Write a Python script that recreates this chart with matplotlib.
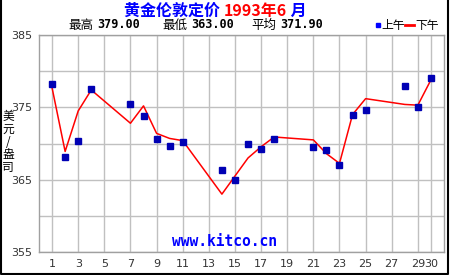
import matplotlib
matplotlib.use("Agg")
import matplotlib.pyplot as plt
from matplotlib.lines import Line2D

plt.rcParams['font.family'] = ['Noto Sans CJK SC', 'DejaVu Sans']

days = [1, 2, 3, 4, 7, 8, 9, 10, 11, 14, 15, 16, 17, 18, 21, 22, 23, 24, 25, 28, 29, 30]
am = [378.2, 368.2, 370.3, 377.5, 375.4, 373.75, 370.6, 369.6, 370.2, 366.3, 364.9, 369.9,
      369.3, 370.6, 369.5, 369.05, 367.0, 374.0, 374.6, 378.0, 375.1, 379.0]
pm = [377.7, 368.9, 374.5, 377.4, 372.8, 375.2, 371.4, 370.7, 370.4, 363.0, 365.5, 368.0,
      369.55, 370.9, 370.5, 368.6, 367.25, 374.0, 376.2, 375.4, 375.3, 378.8]
xticks = [1, 3, 5, 7, 9, 11, 13, 15, 17, 19, 21, 23, 25, 27, 29, 30]
yticks = [355, 365, 375, 385]
title_main = "黄金伦敦定价 "
title_date = "1993年6"
title_month = " 月"
stats = [("最高", "379.00"), ("最低", "363.00"), ("平均", "371.90")]

fig = plt.figure(figsize=(4.5, 2.75), dpi=100)
ax = fig.add_axes([39/450, 1-252/275, (444-39)/450, (252-35)/275])

for x in xticks:
    ax.axvline(x, color='#c0c0c0', lw=1, zorder=0)
for y in range(355, 386, 5):
    ax.axhline(y, color='#c0c0c0', lw=1, zorder=0)

ax.plot(days, pm, color='#ff0000', lw=1.1, zorder=2)
ax.plot(days, am, ls='none', marker='s', ms=3.8, mfc='#0000b4', mec='#0000b4', zorder=3)

ax.set_xlim(0, 31)
ax.set_ylim(355, 385)
ax.set_xticks(xticks)
ax.set_xticklabels([str(x) for x in xticks], fontsize=8, color='#333333', family='DejaVu Sans')
ax.set_yticks(yticks)
ax.set_yticklabels([str(y) for y in yticks], fontsize=8, color='#333333', family='DejaVu Sans')
ax.tick_params(length=0, pad=5)
for s in ax.spines.values():
    s.set_color('#a0a0a0')
    s.set_linewidth(1)

ax.text((225-39)/405, 0.012, "www.kitco.cn", ha='center', va='bottom', color='#0000ff',
        fontsize=10.5, fontweight='bold', family='DejaVu Sans Mono', transform=ax.transAxes)

# title (multi-colour)
fig.canvas.draw()
r = fig.canvas.get_renderer()
ytitle = 1-11/275
parts = [(title_main, '#0000ff'), (title_date, '#ff0000'), (title_month, '#0000ff')]
widths = []
tmp = []
for txt, col in parts:
    t = fig.text(0, ytitle, txt, ha='left', va='center', fontsize=11.5, fontweight='bold', color=col)
    widths.append(t.get_window_extent(renderer=r).width)
    tmp.append(t)
total = sum(widths)
cur = 215 - total/2
for t, w in zip(tmp, widths):
    t.set_x(cur/450)
    cur += w

# stats line
ystat = 1-25/275
positions = [68, 162, 251]
for (lab, val), px in zip(stats, positions):
    t = fig.text(px/450, ystat, lab, ha='left', va='center', fontsize=9, color='black')
    w = t.get_window_extent(renderer=r).width
    fig.text((px + w + 4)/450, ystat, val, ha='left', va='center', fontsize=8.5,
             fontweight='bold', family='DejaVu Sans Mono', color='black')

# legend
fig.patches.append(plt.Rectangle((376/450, ystat - 1.5/275), 4/450, 4/275, transform=fig.transFigure,
                                 color='#0000ff', figure=fig))
fig.text(381/450, ystat, "上午", ha='left', va='center', fontsize=8.5)
fig.lines.append(Line2D([405/450, 414/450], [ystat+0.5/275, ystat+0.5/275], transform=fig.transFigure,
                        color='#ff0000', lw=2))
fig.text(415/450, ystat, "下午", ha='left', va='center', fontsize=8.5)

# y label stacked
ylab = "美元/盎司"
for i, ch in enumerate(ylab):
    fig.text(8/450, 1-(117 + i*12.5)/275, ch, ha='center', va='center', fontsize=8.5)

# frame border
fig.lines.append(Line2D([0.5/450, 0.5/450, 448/450, 448/450], [1, 1-273.5/275, 1-273.5/275, 1],
                        transform=fig.transFigure, color='black', lw=1.5))

fig.savefig("out.png", dpi=100, facecolor='white')
